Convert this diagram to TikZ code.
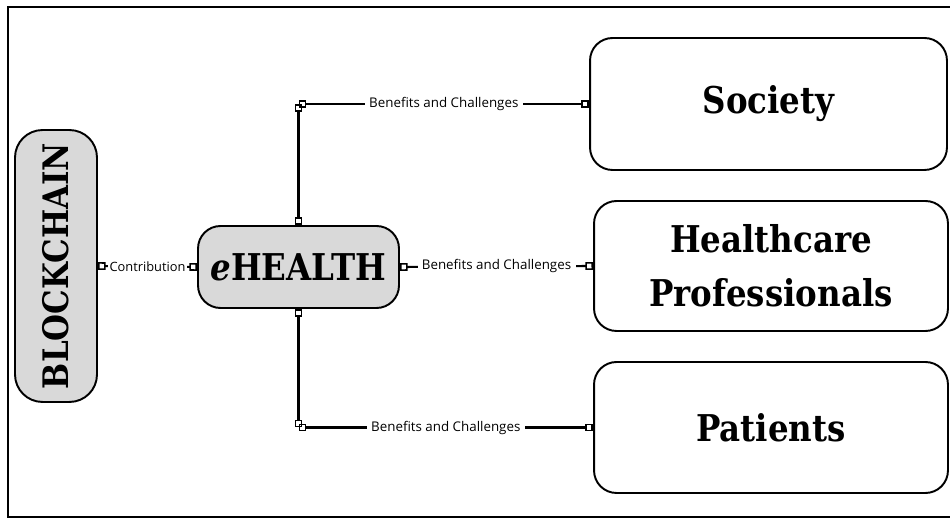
\documentclass[tikz,border=0pt]{standalone}
\usepackage{fontspec}
\setmainfont{Open Sans}
\newfontfamily\slabfont[FakeStretch=0.88]{DejaVu Serif}
\usetikzlibrary{arrows.meta}
\definecolor{boxgray}{HTML}{D9D9D9}

\tikzset{
    topic/.style={draw, line width=1.1pt, rounded corners=0.45cm, align=center,
        font=\slabfont\bfseries\fontsize{21}{31}\selectfont, inner sep=0pt},
    hub/.style={topic, fill=boxgray},
    link/.style={line width=1.2pt, {Square[open,length=4.4pt,width=4.4pt,line width=0.9pt]}-{Square[open,length=4.4pt,width=4.4pt,line width=0.9pt]}},
    tag/.style={fill=white, font=\fontsize{7.6}{9}\selectfont, inner sep=2.5pt}
}

\begin{document}
\begin{tikzpicture}[x=0.02cm, y=-0.02cm]
    \path[use as bounding box, clip] (0,0) rectangle (950,519);
    \draw[line width=1.3pt] (8,7) rectangle (980,517);

    % central concept and the three stakeholders
    \node[hub, minimum width=5.44cm, minimum height=1.64cm, rotate=90, rounded corners=0.55cm,
        font=\slabfont\bfseries\fontsize{20}{24}\selectfont] (blockchain) at (56,266) {BLOCKCHAIN};
    \node[hub, minimum width=4.02cm, minimum height=1.64cm, font=\slabfont\bfseries\fontsize{21}{26}\selectfont] (ehealth) at (298.5,267) {\textit{e}HEALTH};
    \node[topic, minimum width=7.14cm, minimum height=2.64cm] (society) at (768.5,104) {Society};
    \node[topic, minimum width=7.08cm, minimum height=2.6cm] (pros) at (771,266) {Healthcare\\Professionals};
    \node[topic, minimum width=7.08cm, minimum height=2.62cm] (patients) at (771,427.5) {Patients};

    \coordinate (top) at (ehealth.north |- society.west);
    \coordinate (bottom) at (ehealth.south |- patients.west);

    \draw[link] (blockchain.south) -- node[tag, inner xsep=1pt, font=\fontsize{7.3}{9}\selectfont] {Contribution} (ehealth.west);
    \draw[link] (ehealth.east) -- node[tag] {Benefits and Challenges} (pros.west);
    \draw[link] (ehealth.north) -- (top);
    \draw[link] (top) -- node[tag] {Benefits and Challenges} (society.west);
    \draw[link] (ehealth.south) -- (bottom);
    \draw[link] (bottom) -- node[tag] {Benefits and Challenges} (patients.west);
\end{tikzpicture}
\end{document}
